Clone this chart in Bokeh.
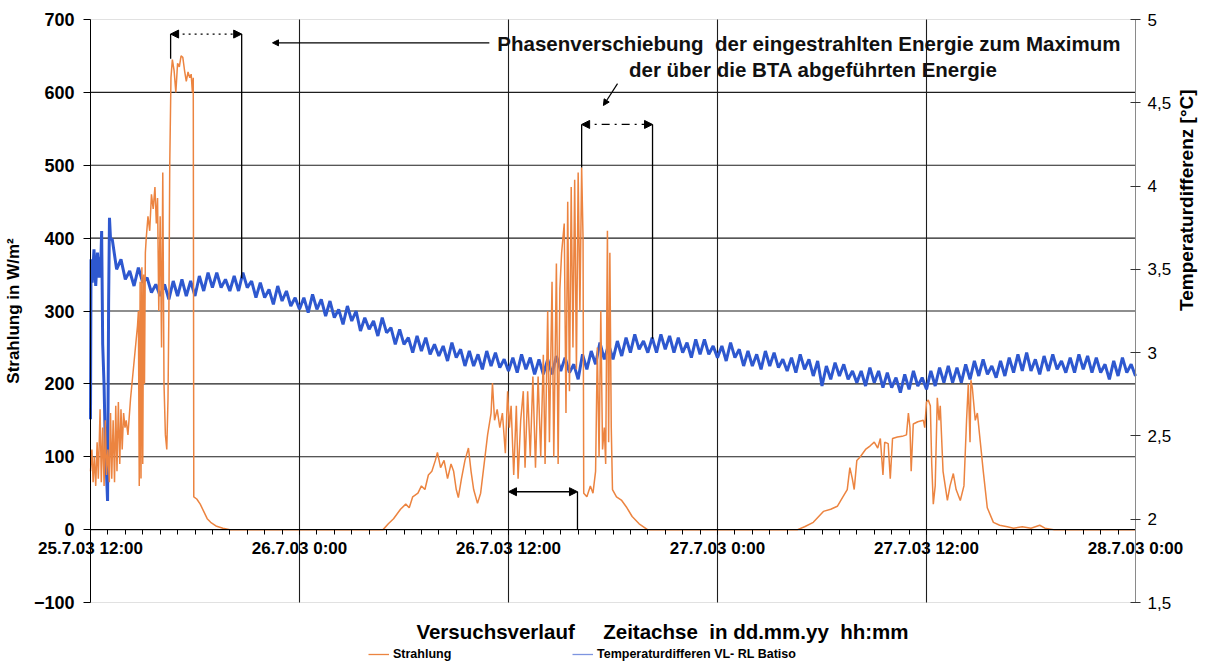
import math
from bokeh.plotting import figure
from bokeh.models import (Range1d, LinearAxis, FixedTicker, Label, Arrow, NormalHead,
                          Legend, LegendItem, BoxAnnotation)
from bokeh.embed import file_html
from bokeh.resources import INLINE

# ---------------- data (hours after 25.7.03 12:00) ----------------
x_major_ticks = [0, 12, 24, 36, 48, 60]
x_tick_labels = ["25.7.03 12:00", "26.7.03 0:00", "26.7.03 12:00",
                 "27.7.03 0:00", "27.7.03 12:00", "28.7.03 0:00"]
x_minor_ticks = list(range(0, 61))
left_ticks = [-100, 0, 100, 200, 300, 400, 500, 600, 700]
right_ticks = [1.5, 2.0, 2.5, 3.0, 3.5, 4.0, 4.5, 5.0]
right_tick_labels = ["1,5", "2", "2,5", "3", "3,5", "4", "4,5", "5"]

# Strahlung (W/m²)
rad_hours = [
    0.0, 0.08, 0.15, 0.22, 0.3, 0.38, 0.45, 0.55, 0.62, 0.7,
    0.78, 0.85, 0.92, 1.0, 1.08, 1.15, 1.22, 1.3, 1.38, 1.45,
    1.52, 1.6, 1.68, 1.75, 1.82, 1.9, 1.98, 2.05, 2.15, 2.3,
    2.5, 2.7, 2.75, 2.8, 2.85, 2.9, 2.95, 3.0, 3.05, 3.1,
    3.15, 3.2, 3.3, 3.4, 3.5, 3.6, 3.7, 3.78, 3.85, 3.92,
    4.0, 4.08, 4.15, 4.22, 4.3, 4.38, 4.45, 4.5, 4.55, 4.62,
    4.7, 4.8, 4.9, 5.0, 5.1, 5.2, 5.3, 5.4, 5.5, 5.6,
    5.7, 5.78, 5.85, 5.9, 5.93, 6.1, 6.3, 6.5, 6.7, 6.9,
    7.2, 7.6, 8.0, 16.8,
    17.1, 17.4, 17.8, 18.1, 18.3, 18.5, 18.8, 19.0, 19.2, 19.4,
    19.6, 19.8, 19.92, 20.1, 20.3, 20.5, 20.7, 20.85, 21.0, 21.12,
    21.3, 21.5, 21.7, 21.85, 22.0, 22.22, 22.4, 22.6, 22.8, 23.0,
    23.08, 23.2, 23.35, 23.5, 23.65, 23.82, 23.95, 24.05, 24.15, 24.3,
    24.45, 24.55, 24.7, 24.85, 24.95, 25.1, 25.25, 25.4, 25.55, 25.7,
    25.85, 26.0, 26.1, 26.25, 26.35, 26.5, 26.6, 26.75, 26.85, 26.95,
    27.05, 27.2, 27.3, 27.4, 27.5, 27.6, 27.7, 27.8, 27.9, 28.0,
    28.1, 28.2, 28.28, 28.32, 28.5, 28.7, 28.85, 29.0, 29.1, 29.2,
    29.3, 29.4, 29.5, 29.58, 29.68, 29.75, 29.82, 29.9, 29.97, 30.2,
    30.5, 30.8, 31.1, 31.5, 31.98, 40.6,
    41.0, 41.5, 42.08, 42.5, 42.88, 43.2, 43.45, 43.6, 43.74, 43.85,
    44.0, 44.2, 44.5, 44.77, 45.0, 45.2, 45.35, 45.5, 45.6, 45.8,
    45.92, 46.05, 46.33, 46.6, 46.85, 46.96, 47.05, 47.12, 47.24, 47.5,
    47.82, 47.9, 48.0, 48.1, 48.22, 48.3, 48.39, 48.5, 48.62, 48.72,
    48.79, 48.95, 49.2, 49.35, 49.54, 49.7, 49.94, 50.15, 50.3, 50.4,
    50.5, 50.55, 50.63, 50.8, 50.92, 51.09, 51.26, 51.49, 51.84, 52.2,
    52.64, 53.0, 53.5, 54.0, 54.5, 54.8, 55.3, 60.0,
]
rad_values = [
    80, 110, 65, 100, 60, 120, 70, 165, 65, 140,
    60, 150, 75, 110, 65, 160, 70, 150, 65, 170,
    80, 175, 90, 165, 110, 160, 140, 150, 130, 180,
    230, 280, 300, 60, 340, 70, 360, 90, 350, 200,
    380, 400, 430, 410, 460, 440, 470, 420, 455, 300,
    430, 250, 490, 200, 130, 110, 180, 300, 500, 620,
    645, 630, 600, 640, 635, 650, 648, 630, 615, 628,
    620, 625, 600, 620, 45, 42, 35, 25, 15, 10,
    5, 2, 0, 0,
    8, 15, 28, 35, 30, 45, 50, 60, 55, 75,
    80, 95, 106, 85, 95, 70, 90, 80, 55, 44,
    70, 95, 112, 80, 55, 36, 50, 90, 130, 160,
    201, 150, 165, 140, 160, 105, 190, 140, 170, 75,
    170, 70, 150, 190, 85, 190, 100, 210, 85, 210,
    100, 240, 90, 300, 120, 340, 100, 365, 90, 330,
    380, 420, 160, 450, 190, 470, 250, 480, 220, 490,
    300, 497, 400, 50, 45, 60, 50, 80, 250, 100,
    300, 110, 140, 90, 410, 120, 380, 140, 55, 45,
    40, 30, 18, 8, 0, 0,
    4, 10, 25, 28, 32, 45, 55, 85, 70, 55,
    95, 100, 110, 115, 120, 112, 125, 75, 120, 118,
    70, 125, 127, 128, 130, 160, 140, 80, 145, 148,
    150, 140, 175, 178, 170, 90, 35, 60, 181, 150,
    170, 80, 40, 60, 77, 55, 40, 60, 150, 200,
    120, 205, 195, 150, 160, 120, 80, 30, 10, 6,
    4, 2, 4, 2, 6, 2, 0, 0,
]

# Temperaturdifferenz VL-RL (°C): first hour irregular, then quarter-hour samples from 1.25 h
temp_start_hours = [0.0, 0.03, 0.1, 0.2, 0.3, 0.4, 0.5, 0.6, 0.64, 0.7,
                    0.78, 0.86, 0.92, 0.98, 1.04, 1.09, 1.15]
temp_start_values = [2.60, 3.56, 3.42, 3.62, 3.40, 3.60, 3.45, 3.57, 3.73, 3.05,
                     2.80, 2.40, 2.27, 2.11, 3.30, 3.81, 3.68]
temp_grid_values = [
    3.68, 3.50, 3.56, 3.44,  3.49, 3.40, 3.51, 3.42,  3.45, 3.36, 3.41, 3.34,
    3.41, 3.32, 3.43, 3.34,  3.44, 3.34, 3.43, 3.34,  3.46, 3.37, 3.48, 3.39,
    3.48, 3.39, 3.44, 3.37,  3.46, 3.37, 3.48, 3.39,  3.43, 3.33, 3.42, 3.33,
    3.38, 3.29, 3.40, 3.31,  3.37, 3.28, 3.33, 3.26,  3.33, 3.24, 3.35, 3.26,
    3.32, 3.22, 3.31, 3.21,  3.26, 3.17, 3.28, 3.19,  3.25, 3.13, 3.21, 3.14,
    3.19, 3.10, 3.21, 3.12,  3.15, 3.05, 3.14, 3.05,  3.09, 3.00, 3.10, 3.01,
    3.09, 2.99, 3.05, 2.98,  3.04, 2.95, 3.06, 2.97,  3.02, 2.92, 3.01, 2.92,
    2.99, 2.90, 3.01, 2.92,  3.00, 2.91, 2.96, 2.89,  2.97, 2.88, 2.99, 2.90,
    2.97, 2.87, 2.96, 2.87,  2.96, 2.87, 2.98, 2.89,  2.97, 2.88, 2.93, 2.84,
    2.99, 2.90, 3.01, 2.93,  3.06, 2.96, 3.05, 2.96,  3.07, 2.98, 3.09, 3.00,
    3.11, 3.02, 3.07, 3.00,  3.09, 3.00, 3.11, 3.02,  3.10, 3.00, 3.09, 3.00,
    3.06, 2.97, 3.08, 2.99,  3.08, 2.99, 3.04, 2.97,  3.04, 2.95, 3.06, 2.97,
    3.02, 2.92, 3.01, 2.92,  2.99, 2.90, 3.01, 2.92,  3.00, 2.91, 2.96, 2.89,
    2.97, 2.88, 2.99, 2.90,  2.96, 2.86, 2.95, 2.80,  2.92, 2.84, 2.94, 2.86,
    2.93, 2.84, 2.89, 2.82,  2.89, 2.80, 2.91, 2.82,  2.89, 2.79, 2.88, 2.79,
    2.85, 2.76, 2.87, 2.78,  2.89, 2.80, 2.85, 2.78,  2.89, 2.80, 2.91, 2.82,
    2.92, 2.82, 2.91, 2.82,  2.93, 2.84, 2.95, 2.86,  2.96, 2.87, 2.92, 2.85,
    2.95, 2.86, 2.97, 2.88,  2.99, 2.89, 3.00, 2.89,  2.96, 2.87, 2.98, 2.89,
    2.99, 2.90, 2.95, 2.88,  2.97, 2.88, 2.99, 2.90,  2.98, 2.88, 2.97, 2.88,
    2.93, 2.84, 2.95, 2.86,  2.97, 2.88, 2.93, 2.86,
]
temp_hours = temp_start_hours + [1.25 + 0.25 * i for i in range(len(temp_grid_values))]
temp_values = temp_start_values + temp_grid_values
assert len(rad_hours) == len(rad_values)

# annotation anchors (hours, W/m²)
bracket1_hours = [4.6, 8.68]
bracket1_top = 680
bracket1_bottoms = [646, 345]
bracket2_hours = [28.2, 32.27]
bracket2_top = 556
bracket2_bottoms = [497, 262]
bracket3_hours = [24.0, 27.96]
bracket3_level = 52

FONT = "Liberation Sans"

# ---------------- layout: the frame fills the canvas, axes sit at fixed positions ----
W, H = 1215, 666
PL, PR, PT, PB = 90, 1135, 19, 602          # plot area in pixels
hx = (PR - PL) / 60.0                        # px per hour
ly = (PB - PT) / 800.0                       # px per W/m²
ty = (PB - PT) / 3.5                         # px per K
x_rng = Range1d(-PL / hx, 60 + (W - PR) / hx)
y_rng = Range1d(-100 - (H - PB) / ly, 700 + PT / ly)
t_rng = Range1d(1.5 - (H - PB) / ty, 5.0 + PT / ty)

p = figure(width=W, height=H, output_backend="svg", toolbar_location=None,
           x_range=x_rng, y_range=y_rng, min_border=0,
           min_border_left=0, min_border_right=0, min_border_top=0, min_border_bottom=0)
p.extra_y_ranges = {"temp": t_rng}
p.background_fill_color = "white"
p.border_fill_color = "white"
p.outline_line_color = None
p.xgrid.visible = False
p.ygrid.visible = False

# plot-area frame
p.add_layout(BoxAnnotation(left=0, right=60, bottom=-100, top=700, fill_alpha=0,
                           line_color="#9a9a9a", line_width=1, level="underlay"))
# grid lines (bounded to the plot area)
ygrid_levels = left_ticks[1:-1]
xgrid_hours = x_major_ticks[1:-1]
p.segment(x0=[0] * len(ygrid_levels), y0=ygrid_levels, x1=[60] * len(ygrid_levels),
          y1=ygrid_levels, line_color="#1e1e1e", line_width=1.1)
p.segment(x0=xgrid_hours, y0=[-100] * len(xgrid_hours), x1=xgrid_hours,
          y1=[700] * len(xgrid_hours), line_color="#1e1e1e", line_width=1.1)

# x axis drawn at y = 0
xa = p.xaxis[0]
xa.fixed_location = 0
xa.bounds = (0, 60)
xa.ticker = FixedTicker(ticks=x_major_ticks, minor_ticks=x_minor_ticks)
xa.major_label_overrides = {t: l for t, l in zip(x_major_ticks, x_tick_labels)}
xa.major_tick_out = 5
xa.major_tick_in = 0
xa.minor_tick_out = 5
xa.minor_tick_in = 0
xa.axis_line_color = "black"
xa.major_tick_line_color = "black"
xa.minor_tick_line_color = "black"
xa.major_label_text_font = FONT
xa.major_label_text_font_size = "17px"
xa.major_label_text_font_style = "bold"
xa.major_label_text_color = "black"
xa.major_label_standoff = 4

# left axis at hour 0
ya = p.yaxis[0]
ya.fixed_location = 0
ya.bounds = (-100, 700)
ya.ticker = FixedTicker(ticks=left_ticks)
ya.axis_label = "Strahlung in W/m²"
ya.axis_label_text_font = FONT
ya.axis_label_text_font_size = "17px"
ya.axis_label_text_font_style = "bold"
ya.axis_label_text_color = "black"
ya.axis_label_standoff = 8
ya.major_label_text_font = FONT
ya.major_label_text_font_size = "18px"
ya.major_label_text_font_style = "bold"
ya.major_label_text_color = "black"
ya.major_label_standoff = 9
ya.major_tick_out = 7
ya.major_tick_in = 0
ya.minor_tick_out = 0
ya.minor_tick_in = 0
ya.axis_line_color = "black"

# right axis at hour 60
yr = LinearAxis(y_range_name="temp", ticker=FixedTicker(ticks=right_ticks),
                major_label_overrides={t: l for t, l in zip(right_ticks, right_tick_labels)})
yr.fixed_location = 60
yr.bounds = (1.5, 5.0)
yr.axis_label = "Temperaturdifferenz [°C]"
yr.axis_label_text_font = FONT
yr.axis_label_text_font_size = "19px"
yr.axis_label_text_font_style = "bold"
yr.axis_label_text_color = "black"
yr.axis_label_standoff = 12
if "axis_label_orientation" in yr.properties():
    yr.axis_label_orientation = math.pi / 2
yr.major_label_text_font = FONT
yr.major_label_text_font_size = "17px"
yr.major_label_text_font_style = "normal"
yr.major_label_text_color = "black"
yr.major_label_standoff = 7
yr.major_tick_out = 5
yr.major_tick_in = 5
yr.minor_tick_out = 0
yr.minor_tick_in = 0
yr.axis_line_color = "#8a8a8a"
yr.major_tick_line_color = "#333333"
p.add_layout(yr, "right")

ORANGE = "#EC8440"
BLUE = "#2E58CF"

# series
p.line(temp_hours, temp_values, y_range_name="temp", line_color=BLUE, line_width=3.0)
p.line(rad_hours, rad_values, line_color=ORANGE, line_width=1.5)

# annotation brackets
p.segment(x0=bracket1_hours, y0=[bracket1_top] * 2, x1=bracket1_hours, y1=bracket1_bottoms,
          line_color="black", line_width=1.3)
p.segment(x0=bracket2_hours, y0=[bracket2_top] * 2, x1=bracket2_hours, y1=bracket2_bottoms,
          line_color="black", line_width=1.3)
p.segment(x0=[bracket3_hours[1]], y0=[bracket3_level], x1=[bracket3_hours[1]], y1=[0],
          line_color="black", line_width=1.3)


def head(size=8):
    return NormalHead(size=size, fill_color="black", line_color="black", line_width=1)


p.add_layout(Arrow(x_start=bracket1_hours[0], y_start=bracket1_top,
                   x_end=bracket1_hours[1], y_end=bracket1_top,
                   start=head(), end=head(), line_color="black", line_width=1.3,
                   line_dash="2 4"))
p.add_layout(Arrow(x_start=bracket2_hours[0], y_start=bracket2_top,
                   x_end=bracket2_hours[1], y_end=bracket2_top,
                   start=head(), end=head(), line_color="black", line_width=1.3,
                   line_dash="8 5 2 5"))
p.add_layout(Arrow(x_start=bracket3_hours[0], y_start=bracket3_level,
                   x_end=bracket3_hours[1], y_end=bracket3_level,
                   start=head(), end=head(), line_color="black", line_width=1.3))
# pointer arrows from the text
p.add_layout(Arrow(x_start=22.9, y_start=668, x_end=10.45, y_end=668,
                   end=head(6), line_color="black", line_width=1.2))
p.add_layout(Arrow(x_start=30.26, y_start=612, x_end=29.45, y_end=582,
                   end=head(6), line_color="black", line_width=1.2))

NB = "\u00a0"
p.add_layout(Label(x=41.25, y=667,
                   text="Phasenverschiebung" + NB + NB + "der eingestrahlten Energie zum Maximum",
                   text_align="center", text_baseline="middle", text_font=FONT,
                   text_font_size="20.5px", text_font_style="bold", text_color="#111111"))
p.add_layout(Label(x=41.5, y=631, text="der über die BTA abgeführten Energie",
                   text_align="center", text_baseline="middle", text_font=FONT,
                   text_font_size="20.5px", text_font_style="bold", text_color="#111111"))

# x axis title
p.add_layout(Label(x=32.84, y=-140,
                   text="Versuchsverlauf" + NB * 5 + "Zeitachse" + NB * 2 + "in" + NB +
                        "dd.mm.yy" + NB * 2 + "hh:mm",
                   text_align="center", text_baseline="middle", text_font=FONT,
                   text_font_size="20.5px", text_font_style="bold", text_color="black"))

# legend (thin sample lines, renderers without visible data)
NAN = float("nan")
lr1 = p.line([NAN], [NAN], line_color=ORANGE, line_width=1.3)
lr2 = p.line([NAN], [NAN], line_color="#7d95e0", line_width=1.3)
legend = Legend(items=[LegendItem(label="Strahlung", renderers=[lr1]),
                       LegendItem(label="Temperaturdifferen VL- RL Batiso", renderers=[lr2])],
                location=(368, 5), orientation="horizontal",
                label_text_font=FONT, label_text_font_size="12.5px",
                label_text_font_style="bold", label_text_color="black",
                glyph_width=21, glyph_height=12, label_height=12, label_standoff=4,
                label_width=174, spacing=5, padding=0, margin=0,
                border_line_alpha=0, background_fill_alpha=0)
p.add_layout(legend, "center")

open("out.html", "w").write(file_html(p, INLINE))
